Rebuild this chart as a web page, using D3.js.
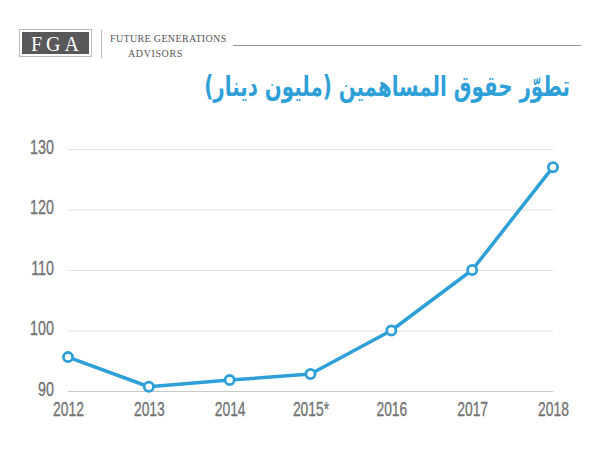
<!DOCTYPE html>
<html><head><meta charset="utf-8">
<script src="https://cdn.jsdelivr.net/npm/d3@7"></script>
<style>body{margin:0;background:#fff}</style>
</head><body>
<svg id="c" width="600" height="450"></svg>
<script>
const years = ["2012","2013","2014","2015*","2016","2017","2018"];
const equity = [95.6, 90.7, 91.8, 92.8, 100, 110, 127];
const yTicks = [90, 100, 110, 120, 130];
const title = "تطوّر حقوق المساهمين (مليون دينار)";

const svg = d3.select("#c");
const blue = "#2f9fd8";
const labelFont = "'Liberation Sans','Arial',sans-serif";
const serif = "'Liberation Serif','DejaVu Serif',serif";

// header / logo
svg.append("rect").attr("x",19.5).attr("y",29.5).attr("width",72).attr("height",27).attr("fill","#fff").attr("stroke","#bbb").attr("stroke-width",1);
svg.append("rect").attr("x",22).attr("y",32).attr("width",67).attr("height",22).attr("fill","#58585a");
svg.append("text").attr("x",57).attr("y",51).attr("text-anchor","middle").attr("fill","#fff")
  .attr("font-family",serif).attr("font-size",20).attr("letter-spacing",4).text("FGA");
svg.append("line").attr("x1",101.5).attr("x2",101.5).attr("y1",30).attr("y2",58).attr("stroke","#bbb");
svg.append("text").attr("x",110).attr("y",42).attr("fill","#555")
  .attr("font-family",serif).attr("font-size",10).attr("letter-spacing",0.35).text("FUTURE GENERATIONS");
svg.append("text").attr("x",128).attr("y",56.5).attr("fill","#555")
  .attr("font-family",serif).attr("font-size",10).attr("letter-spacing",0.6).text("ADVISORS");
svg.append("line").attr("x1",233).attr("x2",581).attr("y1",45.5).attr("y2",45.5).attr("stroke","#999");

// title, condensed to reference width
const tg = svg.append("g");
const tt = tg.append("text").attr("x",0).attr("y",0).attr("direction","rtl")
  .attr("fill",blue).attr("font-family","'DejaVu Sans',sans-serif").attr("font-weight","bold").attr("font-size",28).text(title);
const tw = tt.node().getComputedTextLength();
tg.attr("transform",`translate(570,96) scale(${366/tw},1)`);

// scales
const x = d3.scalePoint().domain(years).range([68,553]);
const y = d3.scaleLinear().domain([90,130]).range([391,149]);

// grid
svg.append("g").selectAll("line").data(yTicks).join("line")
  .attr("x1",68).attr("x2",553).attr("y1",d=>y(d)+0.5).attr("y2",d=>y(d)+0.5)
  .attr("stroke",d=>d===90?"#c8c8c8":"#e2e2e2").attr("stroke-width",1);

// y axis labels
const yAxis = d3.axisLeft(y).tickValues(yTicks).tickSize(0).tickPadding(0);
const ya = svg.append("g").attr("transform","translate(54,0)").call(yAxis);
ya.select(".domain").remove();
ya.selectAll("text").attr("font-family",labelFont).attr("font-size",20.5).attr("fill","#737373")
  .attr("stroke","#737373").attr("stroke-width",0.35)
  .attr("dy","0.35em").attr("transform","translate(0,-3) scale(0.7,1)");

// x axis labels
const xAxis = d3.axisBottom(x).tickSize(0).tickPadding(0);
const xa = svg.append("g").attr("transform","translate(0,416)").call(xAxis);
xa.select(".domain").remove();
xa.selectAll("text").attr("font-family",labelFont).attr("font-size",21).attr("fill","#737373")
  .attr("stroke","#737373").attr("stroke-width",0.35)
  .attr("dy",0).attr("y",0).attr("transform","scale(0.66,1)");

// line
const line = d3.line().x((d,i)=>x(years[i])).y(d=>y(d));
svg.append("path").datum(equity).attr("d",line).attr("fill","none").attr("stroke",blue).attr("stroke-width",3.5).attr("stroke-linejoin","round");
svg.append("g").selectAll("circle").data(equity).join("circle")
  .attr("cx",(d,i)=>x(years[i])).attr("cy",d=>y(d)).attr("r",4.6)
  .attr("fill","#fff").attr("stroke",blue).attr("stroke-width",2.8);
</script>
</body></html>
